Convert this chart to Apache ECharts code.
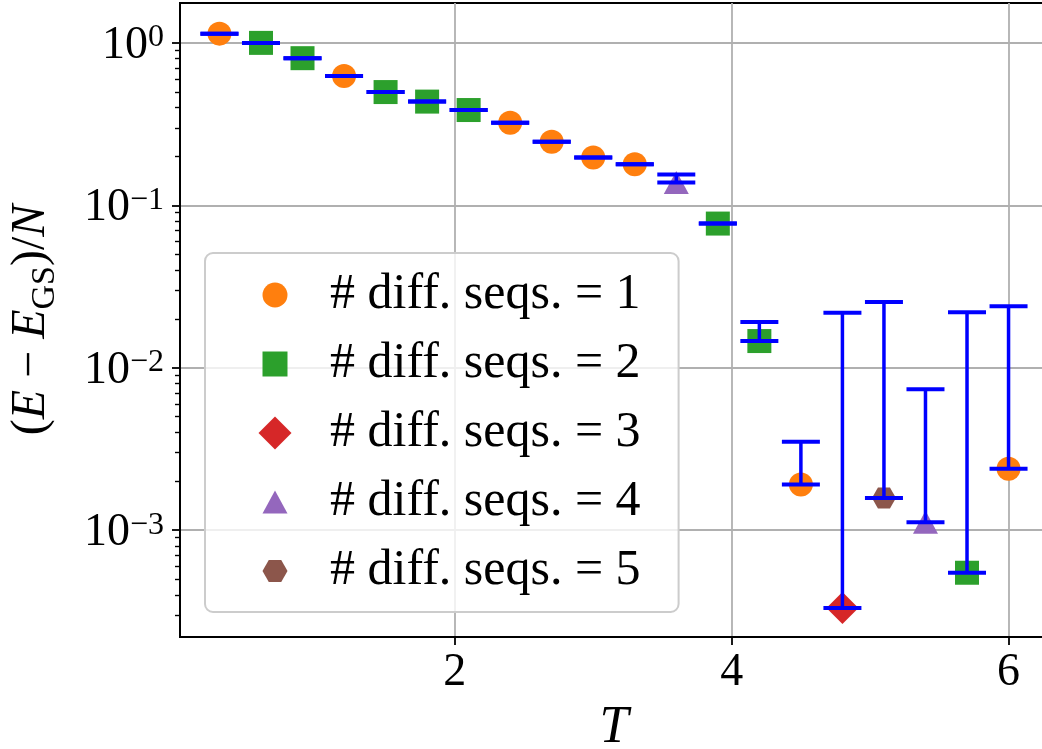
<!DOCTYPE html>
<html><head><meta charset="utf-8">
<script src="https://cdn.jsdelivr.net/npm/echarts@6/dist/echarts.min.js"></script>
<style>html,body{margin:0;padding:0;background:#fff}#c{width:1042px;height:749px}</style>
</head><body><div id="c"></div>
<script>
// ---- data ----
const T = [0.3,0.6,0.9,1.2,1.5,1.8,2.1,2.4,2.7,3.0,3.3,3.6,3.9,4.2,4.5,4.8,5.1,5.4,5.7,6.0];
const energy = [1.14,1.00,0.805,0.625,0.498,0.435,0.386,0.322,0.246,0.197,0.179,0.138,0.0772,0.0146,0.00191,0.000332,0.00158,0.00112,0.000547,0.00239];
const energyUpper = [1.14,1.00,0.805,0.625,0.498,0.435,0.386,0.322,0.246,0.197,0.179,0.155,0.0772,0.0191,0.0035,0.0218,0.0254,0.00736,0.0220,0.0239];
const diffSeqs = [1,2,2,1,2,2,2,1,1,1,1,4,2,2,1,3,5,4,2,1];
const groupNames = ['# diff. seqs. = 1','# diff. seqs. = 2','# diff. seqs. = 3','# diff. seqs. = 4','# diff. seqs. = 5'];
const groupColors = ['#ff7f0e','#2ca02c','#d62728','#9467bd','#8c564b'];
const yMajorTicks = [0.001,0.01,0.1,1];
const yMinorTicks = [0.0003,0.0004,0.0005,0.0006,0.0007,0.0008,0.0009,
  0.002,0.003,0.004,0.005,0.006,0.007,0.008,0.009,
  0.02,0.03,0.04,0.05,0.06,0.07,0.08,0.09,
  0.2,0.3,0.4,0.5,0.6,0.7,0.8,0.9];
const xTicks = [2,4,6];

// ---- styles ----
const groupSymbols = ['circle','rect','diamond','triangle','path://M0,43.3L25,0L75,0L100,43.3L75,86.6L25,86.6Z'];
const groupSizes = [24,24,32,[25,23],[24,21]];
const legendIcons = [
  'path://M0,0M33,33M29,16.5A12.5,12.5,0,1,1,4,16.5A12.5,12.5,0,1,1,29,16.5Z',
  'path://M0,0M33,33M4,4L29,4L29,29L4,29Z',
  'diamond',
  'path://M0,0M33,33M16.5,5L29,28L4,28Z',
  'path://M0,0M33,33M4,16.5L10.25,5.5L22.75,5.5L29,16.5L22.75,27.5L10.25,27.5Z'
];
const SERIF = "'Liberation Serif', 'DejaVu Serif', serif";
const chart = echarts.init(document.getElementById('c'), null, {renderer:'canvas'});

const scatterSeries = groupNames.map((name, g) => ({
  type: 'scatter',
  name: name,
  symbol: groupSymbols[g],
  symbolSize: groupSizes[g],
  itemStyle: {color: groupColors[g], opacity: 1},
  data: T.map((t, i) => diffSeqs[i] === g + 1 ? [t, energy[i]] : null).filter(d => d),
  z: 2,
  silent: true
}));

const errSeries = {
  type: 'custom',
  name: 'errors',
  coordinateSystem: 'cartesian2d',
  data: T.map((t, i) => [t, energy[i], energyUpper[i]]),
  encode: {x: 0, y: [1, 2]},
  z: 4,
  silent: true,
  renderItem: function (params, api) {
    const x = api.value(0);
    const lo = api.coord([x, api.value(1)]);
    const hi = api.coord([x, api.value(2)]);
    const hw = 19;
    const blue = '#0000ff';
    const children = [];
    if (Math.abs(hi[1] - lo[1]) > 0.5) {
      children.push({type: 'line', shape: {x1: lo[0], y1: lo[1], x2: hi[0], y2: hi[1]}, style: {stroke: blue, lineWidth: 3.5}});
    }
    children.push({type: 'line', shape: {x1: lo[0] - hw, y1: lo[1], x2: lo[0] + hw, y2: lo[1]}, style: {stroke: blue, lineWidth: 4}});
    children.push({type: 'line', shape: {x1: hi[0] - hw, y1: hi[1], x2: hi[0] + hw, y2: hi[1]}, style: {stroke: blue, lineWidth: 4}});
    return {type: 'group', children: children};
  }
};

function yLabel(value) {
  const e = Math.round(Math.log10(value));
  if (Math.abs(Math.log10(value) - e) > 1e-6) return '';
  return '{b|10}{e|' + (e < 0 ? '\u2212' + (-e) : String(e)) + '}';
}

const option = {
  animation: false,
  backgroundColor: '#ffffff',
  grid: {
    left: 180, top: 3, right: -6, bottom: 112,
    containLabel: false, outerBoundsMode: 'none',
    show: true, borderColor: '#000', borderWidth: 2, backgroundColor: 'transparent'
  },
  xAxis: {
    type: 'value', min: 0.015, max: 6.285,
    axisLine: {show: true, onZero: false, lineStyle: {color: '#000', width: 2}},
    axisTick: {show: true, length: 8, lineStyle: {color: '#000', width: 1.8}, customValues: xTicks},
    axisLabel: {customValues: xTicks, fontFamily: SERIF, fontSize: 46, color: '#000', margin: 12, lineHeight: 48},
    splitLine: {show: true, lineStyle: {color: '#b0b0b0', width: 1.8}},
    name: 'T', nameLocation: 'middle', nameGap: 64,
    nameTextStyle: {fontFamily: SERIF, fontStyle: 'italic', fontSize: 52, color: '#000', lineHeight: 52}
  },
  yAxis: [{
    type: 'log', logBase: 10, min: 2.2e-4, max: 1.76,
    axisLine: {show: true, lineStyle: {color: '#000', width: 2}},
    axisTick: {show: true, length: 8, lineStyle: {color: '#000', width: 1.8}, customValues: yMajorTicks},
    axisLabel: {
      customValues: yMajorTicks, margin: 16, formatter: yLabel, padding: [6, 0, 0, 0],
      rich: {
        b: {fontFamily: SERIF, fontSize: 46, color: '#000', lineHeight: 48},
        e: {fontFamily: SERIF, fontSize: 32, color: '#000', lineHeight: 20, verticalAlign: 'top'}
      }
    },
    splitLine: {show: true, lineStyle: {color: '#b0b0b0', width: 1.8}},
    name: '{p|(}{i|E}{p| \u2212 }{i|E}{s|GS}{p|)/}{i|N}',
    nameLocation: 'middle', nameGap: 124,
    nameTextStyle: {
      rich: {
        p: {fontFamily: SERIF, fontSize: 48, color: '#000', lineHeight: 50},
        i: {fontFamily: SERIF, fontSize: 48, fontStyle: 'italic', color: '#000', lineHeight: 50},
        s: {fontFamily: SERIF, fontSize: 34, color: '#000', lineHeight: 34, verticalAlign: 'bottom', padding: [0, 0, -6, 0]}
      }
    }
  }, {
    type: 'log', logBase: 10, min: 2.2e-4, max: 1.76, position: 'left',
    axisLine: {show: false},
    axisTick: {show: true, length: 5, lineStyle: {color: '#000', width: 1.4}, customValues: yMinorTicks},
    axisLabel: {show: false},
    splitLine: {show: false}
  }],
  legend: {
    orient: 'vertical', left: 205, top: 253,
    data: groupNames.map((n, g) => ({name: n, icon: legendIcons[g]})),
    itemWidth: 33, itemHeight: 33, itemGap: 19,
    symbolKeepAspect: true,
    padding: [17, 38, 16, 53.5],
    backgroundColor: 'rgba(255,255,255,0.8)',
    borderColor: '#cccccc', borderWidth: 2, borderRadius: 8,
    selectedMode: false,
    textStyle: {fontFamily: SERIF, fontSize: 50, color: '#000', lineHeight: 50, padding: [0, 0, 0, 33.5]}
  },
  series: scatterSeries.concat([errSeries])
};
chart.setOption(option);
</script>
</body></html>
